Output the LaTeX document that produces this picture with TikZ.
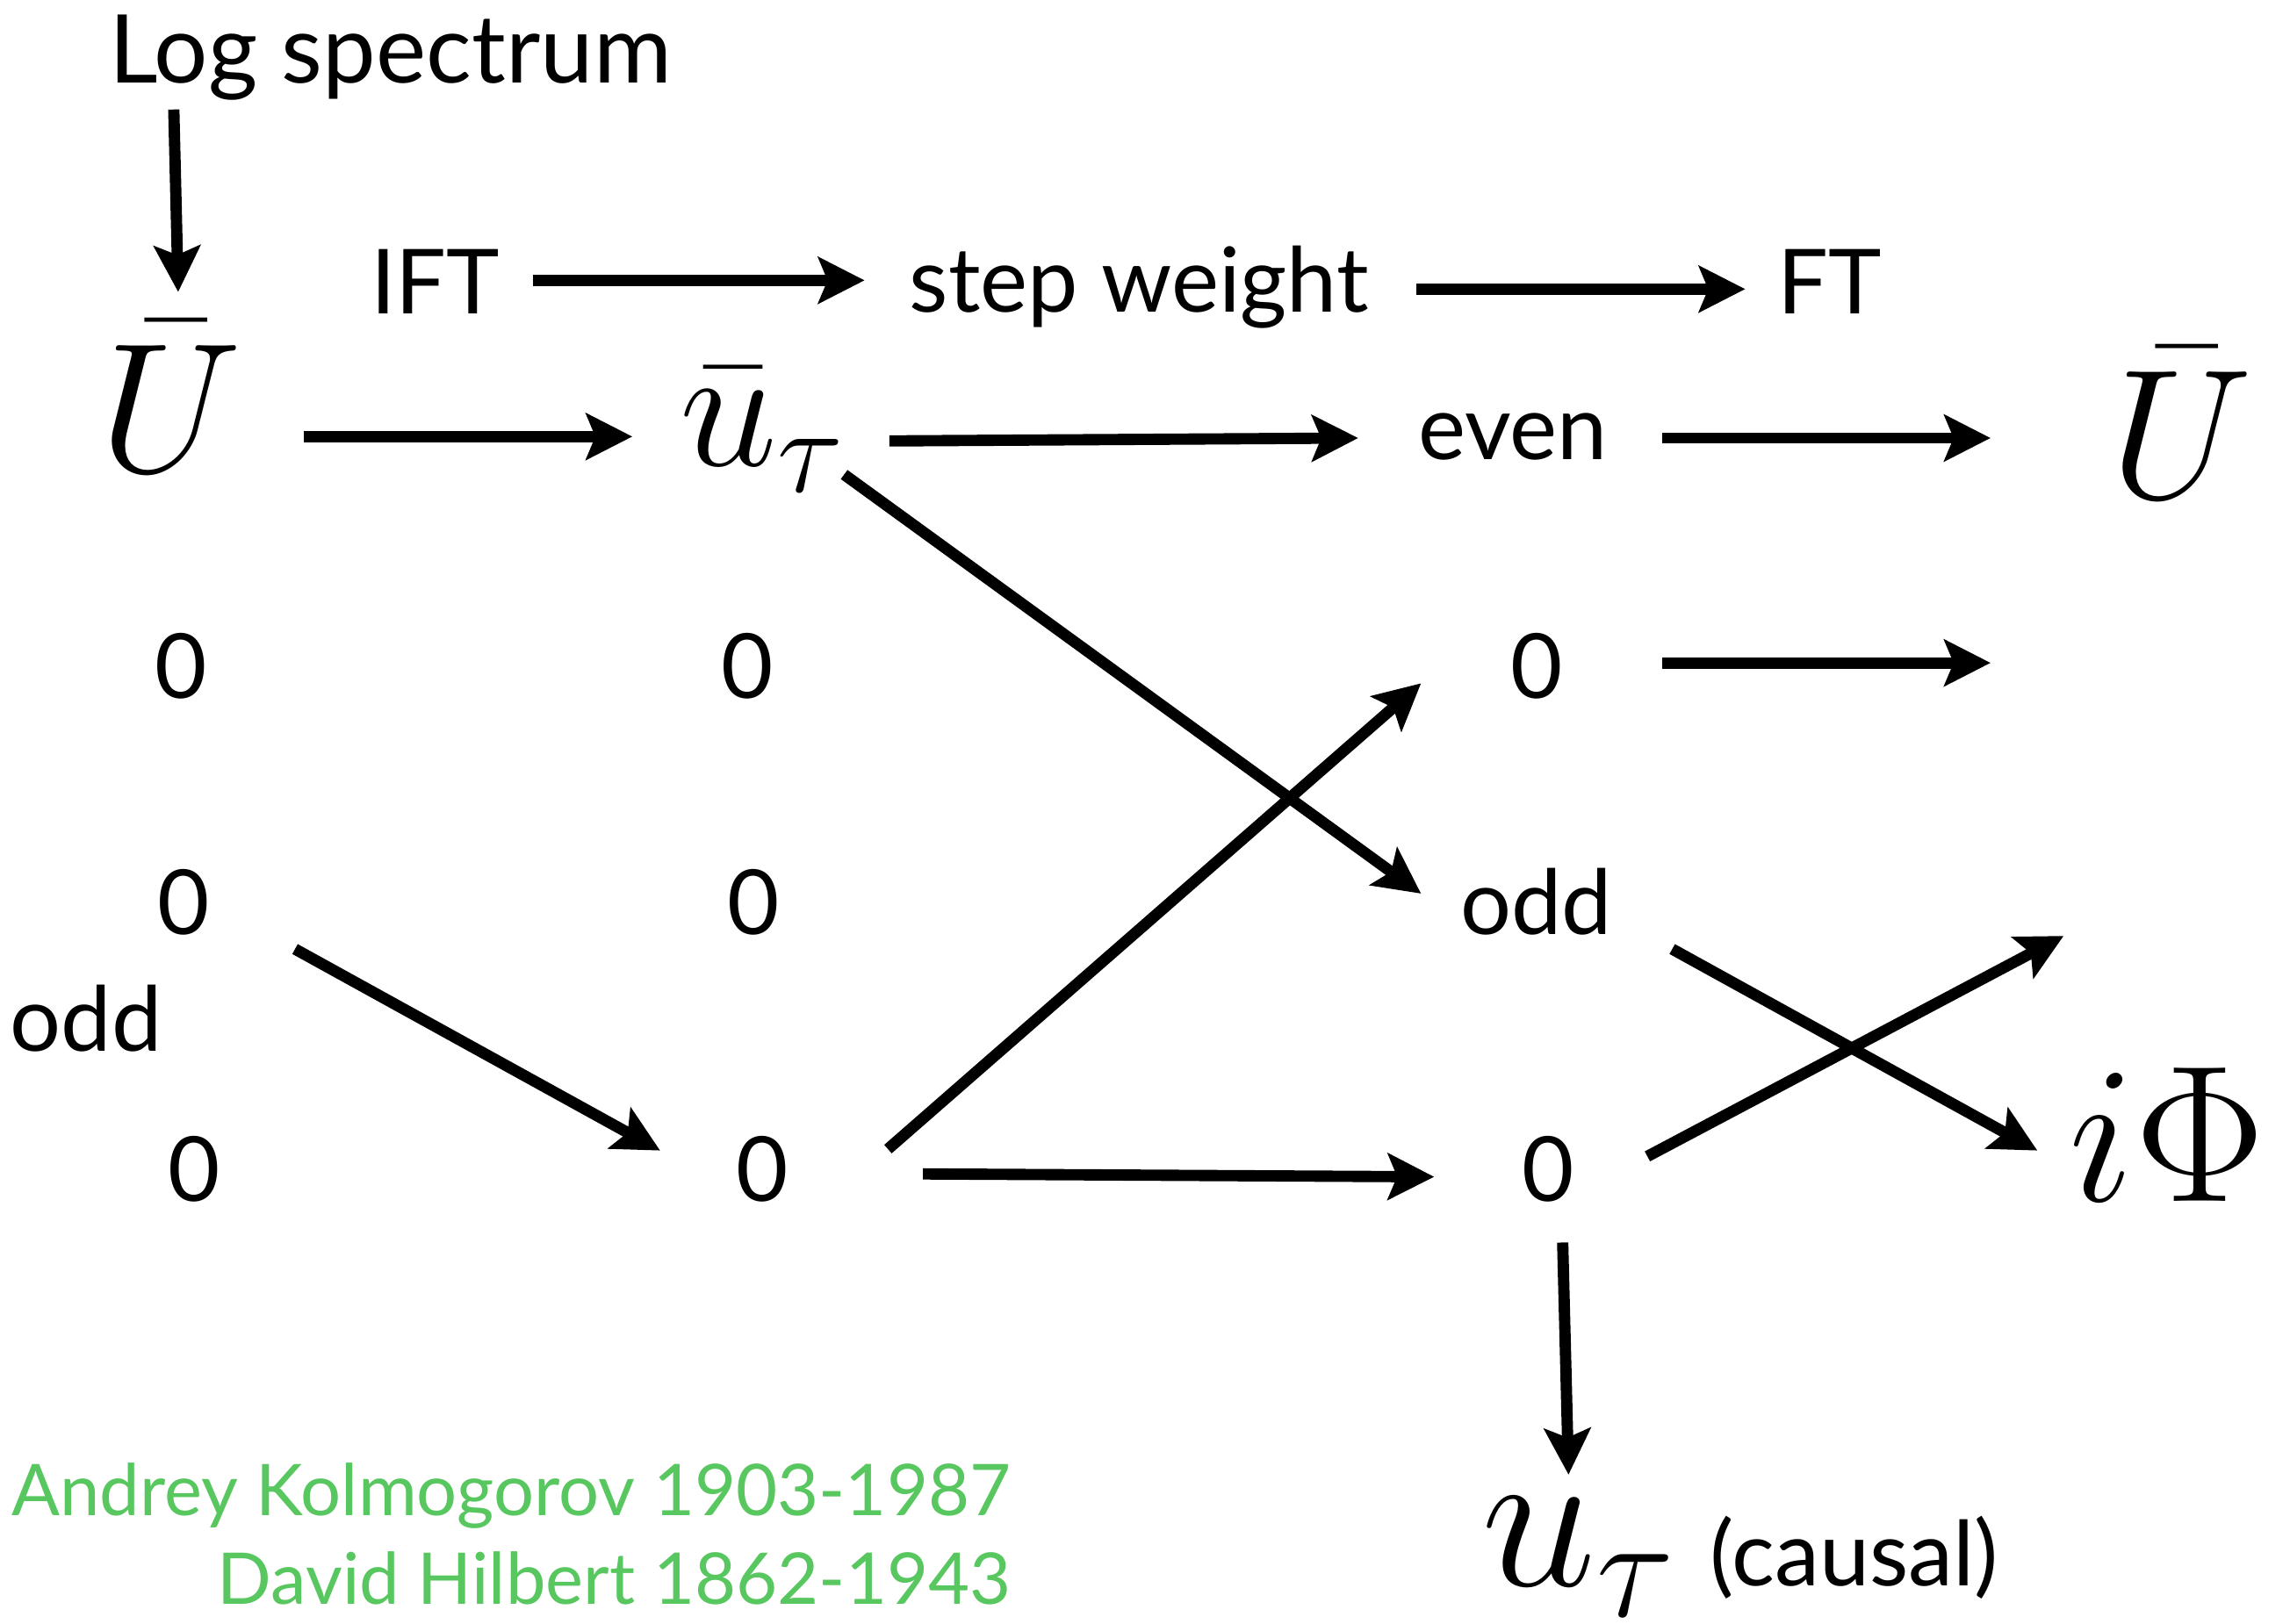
\documentclass[tikz,border=0pt]{standalone}
\usepackage{fix-cm}
\usepackage[no-math]{fontspec}
\setmainfont{Lato}
\usepackage{tikz}
\usetikzlibrary{arrows.meta}
\definecolor{verde}{RGB}{88,199,96}
\tikzset{
  arr/.style={-{Stealth[length=9pt,width=9pt,inset=1.8pt]}, line width=2.2pt},
  txt/.style={inner sep=0pt, font=\fontsize{17.5}{20}\selectfont},
  mat/.style={inner sep=0pt, font=\fontsize{36}{40}\selectfont},
  nome/.style={inner sep=0pt, text=verde, font=\fontsize{13.9}{17}\selectfont},
}

\begin{document}
\begin{tikzpicture}[x=0.01cm, y=-0.01cm]
\useasboundingbox (0,0) rectangle (1568,1112);

% Linha de cima
\node[txt, anchor=base west, font=\fontsize{18.5}{21}\selectfont] (logspec) at (74,57) {Log spectrum};
\node[txt, anchor=base] (ift) at (298,215) {IFT};
\node[txt, anchor=base] (stepw) at (780,214) {step weight};
\node[txt, anchor=base] (ft) at (1253,215) {FT};

% Coluna 1
\node[mat, anchor=base] (U1) at (117,323) {$\bar U$};
\node[txt, anchor=base] (zC1) at (124,478) {0};
\node[txt, anchor=base] (zD1) at (126,640) {0};
\node[txt, anchor=base] (oddL) at (59,720) {odd};
\node[txt, anchor=base] (zE1) at (133,823) {0};

% Coluna 2
\node[mat, anchor=base west, font=\fontsize{34}{38}\selectfont] (ubar) at (465,319) {$\bar u_\tau$};
\node[txt, anchor=base] (zC2) at (512,478) {0};
\node[txt, anchor=base] (zD2) at (516,640) {0};
\node[txt, anchor=base] (zE2) at (522,823) {0};

% Coluna 3
\node[txt, anchor=base] (even) at (1036,315) {even};
\node[txt, anchor=base] (zC3) at (1052,478) {0};
\node[txt, anchor=base] (oddR) at (1052,640) {odd};
\node[txt, anchor=base] (zE3) at (1060,823) {0};
\node[inner sep=0pt, anchor=base west] (causal) at (1014,1086)
  {\fontsize{40}{44}\selectfont$u_\tau$\,\fontsize{17.5}{20}\selectfont(causal)};

% Coluna 4
\node[mat, anchor=base] (U2) at (1494,341) {$\bar U$};
\node[mat, anchor=base, font=\fontsize{38}{42}\selectfont] (iphi) at (1484,823) {$i\Phi$};
\coordinate (endC) at (1363,454);
\coordinate (endE) at (1413,641);

% Nomes
\node[nome, anchor=base east] (kolmo) at (693,1038) {Andrey Kolmogorov 1903-1987};
\node[nome, anchor=base east] (hilbert) at (693,1099) {David Hilbert 1862-1943};

% Setas
\draw[arr] ([shift={(45,18)}]logspec.base west) -- ([shift={(5,-123)}]U1.base);
\draw[arr] ([shift={(67,-23)}]ift.base) -- ([shift={(-188,-22)}]stepw.base);
\draw[arr] ([shift={(190,-16)}]stepw.base) -- ([shift={(-58,-17)}]ft.base);
\draw[arr] ([shift={(91,-24)}]U1.base) -- ([shift={(-32,-20)}]ubar.base west);
\draw[arr] ([shift={(144,-17)}]ubar.base west) -- ([shift={(-106,-15)}]even.base);
\draw[arr] ([shift={(102,-15)}]even.base) -- ([shift={(-131,-41)}]U2.base);
\draw[arr] ([shift={(86,-24)}]zC3.base) -- (endC);
\draw[arr] ([shift={(113,6)}]ubar.base west) -- ([shift={(-79,-28)}]oddR.base);
\draw[arr] ([shift={(76,10)}]zD1.base) -- ([shift={(-70,-35)}]zE2.base);
\draw[arr] ([shift={(86,-36)}]zE2.base) -- ([shift={(-79,-10)}]zC3.base);
\draw[arr] ([shift={(110,-19)}]zE2.base) -- ([shift={(-78,-17)}]zE3.base);
\draw[arr] ([shift={(93,10)}]oddR.base) -- ([shift={(-89,-35)}]iphi.base);
\draw[arr] ([shift={(68,-31)}]zE3.base) -- (endE);
\draw[arr] ([shift={(10,28)}]zE3.base) -- ([shift={(60,-76)}]causal.base west);
\end{tikzpicture}
\end{document}
